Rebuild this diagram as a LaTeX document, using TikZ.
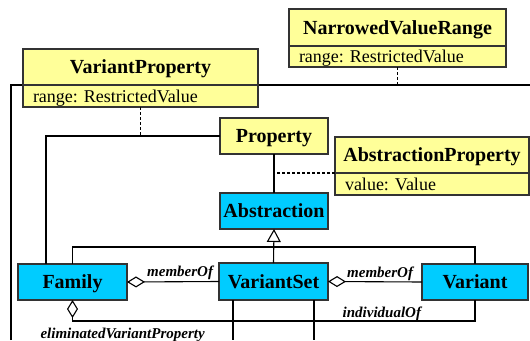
\documentclass[tikz,border=0pt]{standalone}
\usepackage{fontspec}
\setmainfont{Liberation Serif}
\usepackage{xcolor}
\usetikzlibrary{arrows.meta,positioning}
\definecolor{classyellow}{HTML}{FFFF99}
\definecolor{classcyan}{HTML}{00CCFF}
\definecolor{boxline}{HTML}{333333}
\frenchspacing

\begin{document}
\begin{tikzpicture}[x=1pt,y=-1pt,line width=1.1pt,
    every node/.style={inner sep=0pt,outer sep=0pt},
    head/.style={draw=boxline,line width=1.4pt,minimum width=108pt,minimum height=36pt,
      text height=13.5pt,text depth=0pt,font=\fontsize{20}{22}\selectfont\bfseries},
    yhead/.style={head,fill=classyellow},
    chead/.style={head,fill=classcyan},
    attr/.style={draw=boxline,line width=1.4pt,fill=classyellow,minimum height=22pt,
      text height=12.5pt,text depth=0pt,inner xsep=10pt,align=left,
      font=\fontsize{18}{20}\selectfont},
    role/.style={font=\fontsize{15}{17}\selectfont\bfseries\itshape},
    agg/.style={{Diamond[open,length=18pt,width=11pt]}-},
    dep/.style={dash pattern=on 3pt off 2pt}]
  \useasboundingbox (0,0) rectangle (530,340);
  % line running off the picture
  \coordinate (framestart) at (11,340);
  \coordinate (frameend) at (530,85);
  \draw (framestart) |- (frameend);
  % classes
  \node[yhead,minimum width=235pt] (vprop) at (140.5,67) {VariantProperty};
  \node[attr,text width=215pt,below=0pt of vprop] (vpattr) {range: RestrictedValue};
  \node[yhead,minimum width=217pt,minimum height=37pt] (nvr) at (397.5,27.5) {NarrowedValueRange};
  \node[attr,text width=197pt,minimum height=21pt,below=0pt of nvr] (nvrattr) {range: RestrictedValue};
  \node[yhead,minimum width=194pt] (absprop) at (432,155) {AbstractionProperty};
  \node[attr,text width=174pt,below=0pt of absprop] (apattr) {value: Value};
  \node[yhead] (prop) at (274,136) {Property};
  \node[chead] (abs) at (274,211) {Abstraction};
  \node[chead,minimum width=109pt] (fam) at (72.5,282) {Family};
  \node[chead,minimum width=109pt,minimum height=37pt] (vset) at (273.5,281.5) {VariantSet};
  \node[chead,minimum width=106pt] (var) at (475,282) {Variant};
  % connectors
  \draw (prop.west) -| ([xshift=-26.5pt]fam.north);
  \draw[dep] (vpattr.south) -- (vpattr.south |- prop.west);
  \draw[dep] (nvrattr.south) -- (nvrattr.south |- frameend);
  \draw (prop.south) -- (abs.north);
  \draw[dep] (absprop.south west) -- (absprop.south west -| prop.south);
  \draw[-{Triangle[open,length=13pt,width=14pt]}] (vset.north) -- (abs.south);
  \draw (fam.north) -- ++(0,-17) -| (var.north);
  \draw[agg] (fam.east) -- (vset.west)
    node[role,pos=1,anchor=base east,xshift=-6pt,yshift=5pt] {memberOf};
  \draw[agg] (vset.east) -- (var.west)
    node[role,pos=1,anchor=base east,xshift=-9pt,yshift=5pt] {memberOf};
  \draw[agg] (fam.south) -- ++(0,21) coordinate (elimturn)
    -- (elimturn -| var.south) coordinate (indivturn) -- (var.south);
  \node[role,anchor=base west] (elimlabel) at ([xshift=-32pt,yshift=-17pt]elimturn) {eliminatedVariantProperty};
  \node[role,anchor=base east] (indivlabel) at ([xshift=-54pt,yshift=4pt]indivturn) {individualOf};
  % lines leaving VariantSet
  \coordinate (vsetdownA) at (233,340);
  \coordinate (vsetdownB) at (314,340);
  \draw (vset.south -| vsetdownA) -- (vsetdownA);
  \draw (vset.south -| vsetdownB) -- (vsetdownB);
\end{tikzpicture}
\end{document}
